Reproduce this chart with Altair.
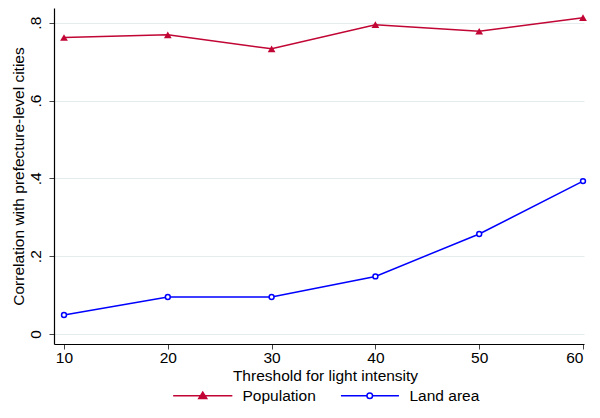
import altair as alt
import pandas as pd

thresholds = [10, 20, 30, 40, 50, 60]
population = [0.762, 0.769, 0.733, 0.795, 0.778, 0.813]
land_area = [0.049, 0.095, 0.095, 0.148, 0.257, 0.393]
y_ticks = [0, 0.2, 0.4, 0.6, 0.8]

RED = "#c10534"
BLUE = "#0000ff"
FONT = "Liberation Sans"
FS = 15.5

df = pd.DataFrame(
    {
        "threshold": thresholds * 2,
        "value": population + land_area,
        "series": ["Population"] * 6 + ["Land area"] * 6,
    }
)

x = alt.X(
    "threshold:Q",
    scale=alt.Scale(domain=[9.037, 60.096], nice=False, zero=False),
    axis=alt.Axis(
        values=thresholds,
        grid=False,
        tickSize=5,
        labelPadding=1,
        title="Threshold for light intensity",
        titleX=271,
        titleY=31.5,
        titleBaseline="middle",
        titleAlign="center",
    ),
)
y = alt.Y(
    "value:Q",
    scale=alt.Scale(domain=[-0.0257, 0.8378], nice=False, zero=False),
    axis=alt.Axis(
        values=y_ticks,
        labelExpr="datum.value == 0 ? '0' : replace(format(datum.value, '.1f'), '0.', '.')",
        labelAngle=270,
        labelAlign="center",
        labelBaseline="bottom",
        labelPadding=5.7,
        tickSize=5,
        grid=True,
        gridColor="#e4ecee",
        gridWidth=1,
        title="Correlation with prefecture-level cities",
        titleAngle=270,
        titleX=-35.4,
        titleY=168,
        titleAlign="center",
        titleBaseline="middle",
    ),
)

pop = alt.Chart(df).transform_filter(alt.datum.series == "Population")
land = alt.Chart(df).transform_filter(alt.datum.series == "Land area")

pop_line = pop.mark_line(color=RED, strokeWidth=1.5).encode(x=x, y=y)
pop_pts = pop.mark_point(shape="triangle-up", filled=True, size=60, opacity=1).encode(
    x=x,
    y=y,
    color=alt.Color(
        "series:N",
        scale=alt.Scale(domain=["Population"], range=[RED]),
        legend=alt.Legend(
            title=None,
            orient="none",
            legendX=141,
            legendY=380,
            symbolType="M-7.4,0H7.4M-1,0.7L1,0.7L0,-0.9Z",
            symbolSize=64,
            symbolStrokeColor=RED,
            symbolStrokeWidth=1.5,
            labelOffset=32,
        ),
    ),
)

land_line = land.mark_line(color=BLUE, strokeWidth=1.5).encode(x=x, y=y)
land_pts = land.mark_point(
    shape="circle", filled=False, fill="white", size=24, strokeWidth=1.5, opacity=1
).encode(
    x=x,
    y=y,
    color=alt.Color(
        "series:N",
        scale=alt.Scale(domain=["Land area"], range=[BLUE]),
        legend=alt.Legend(
            title=None,
            orient="none",
            legendX=308,
            legendY=380,
            symbolType="M-7.2,0H-0.7M0.7,0H7.3M0.7,0A0.7,0.7,0,1,1,-0.7,0A0.7,0.7,0,1,1,0.7,0",
            symbolSize=64,
            symbolStrokeWidth=1.5,
            labelOffset=32,
        ),
    ),
)

chart = (
    alt.layer(pop_line, pop_pts, land_line, land_pts)
    .resolve_scale(color="independent")
    .properties(
        width=530,
        height=336,
        autosize=alt.AutoSizeParams(type="none"),
        padding={"left": 46, "top": 0, "right": 8, "bottom": 60},
        background="white",
    )
    .configure_view(stroke=None)
    .configure_axis(
        labelFont=FONT,
        titleFont=FONT,
        labelFontSize=FS,
        titleFontSize=FS,
        labelColor="black",
        titleColor="black",
        titleFontWeight="normal",
        domainColor="black",
        domainWidth=1.2,
        tickColor="#444444",
        tickWidth=1,
    )
    .configure_legend(
        labelFont=FONT,
        labelFontSize=FS,
        labelColor="black",
    )
)

chart.save("out.html", embed_options={"renderer": "svg", "actions": False})
